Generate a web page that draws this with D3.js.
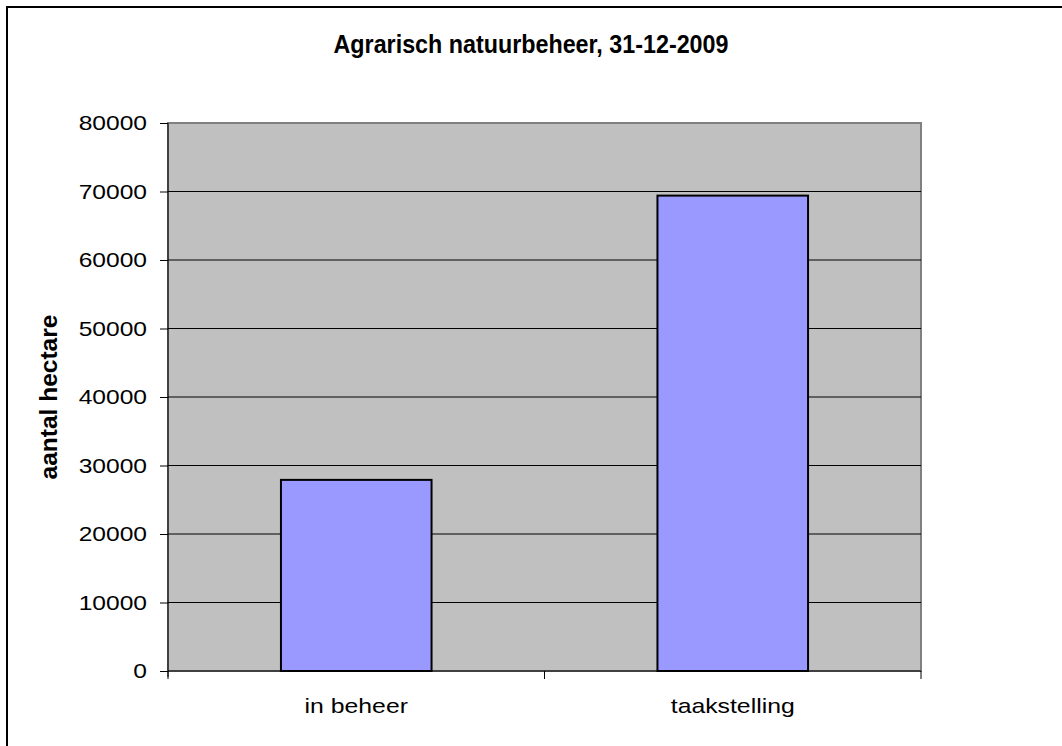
<!DOCTYPE html>
<html>
<head>
<meta charset="utf-8">
<script src="https://cdn.jsdelivr.net/npm/d3@7"></script>
<style>
body { margin: 0; background: #fff; }
text { font-family: "Liberation Sans", Arial, sans-serif; }
</style>
</head>
<body>
<div id="chart"></div>
<script>
// data
var categories = ["in beheer", "taakstelling"];
var values = [27900, 69400];
var yTicks = [0, 10000, 20000, 30000, 40000, 50000, 60000, 70000, 80000];

var W = 1062, H = 746;
var margin = { top: 123, right: 141, bottom: 75, left: 168 },
width = W - margin.left - margin.right,
height = H - margin.top - margin.bottom;

var data = categories.map(function (c, i) { return { cat: c, value: values[i] }; });

// the original picture is a bit wider than normal Arial, stretch text horizontally
function stretch(sel, k) {
  sel.each(function () {
    var len = this.getComputedTextLength();
    d3.select(this).attr("textLength", len * k).attr("lengthAdjust", "spacingAndGlyphs");
  });
}

var root = d3.select("#chart")
.append("svg")
.attr("width", W)
.attr("height", H);

// outer chart border (runs off right/bottom)
root.append("rect")
.attr("x", 7).attr("y", 7)
.attr("width", W + 20).attr("height", H + 20)
.attr("fill", "#fff")
.attr("stroke", "#000")
.attr("stroke-width", 2);

root.append("text")
.attr("x", 531).attr("y", 53)
.attr("text-anchor", "middle")
.style("font-size", "25px")
.style("font-weight", "bold")
.attr("textLength", 395)
.attr("lengthAdjust", "spacingAndGlyphs")
.text("Agrarisch natuurbeheer, 31-12-2009");

var svg = root.append("g")
.attr("transform", "translate(" + margin.left + "," + margin.top + ")");

var x = d3.scaleBand()
.domain(categories)
.range([0, width])
.paddingInner(0.6)
.paddingOuter(0.3);

var y = d3.scaleLinear()
.domain([0, 80000])
.range([height, 0]);

// plot background
svg.append("rect")
.attr("width", width).attr("height", height)
.attr("fill", "#c0c0c0")
.attr("stroke", "#808080")
.attr("stroke-width", 2);

// gridlines
svg.selectAll("line.grid").data(yTicks.slice(1, -1)).enter()
.append("line")
.attr("class", "grid")
.attr("x1", 0).attr("x2", width)
.attr("y1", function (d) { return y(d); })
.attr("y2", function (d) { return y(d); })
.attr("stroke", "#000")
.attr("stroke-width", 1);

// bars
svg.selectAll("rect.bar").data(data).enter()
.append("rect")
.attr("class", "bar")
.attr("x", function (d) { return x(d.cat); })
.attr("y", function (d) { return y(d.value); })
.attr("width", x.bandwidth())
.attr("height", function (d) { return height - y(d.value); })
.attr("fill", "#9999ff")
.attr("stroke", "#000")
.attr("stroke-width", 2);

// Y axis
var yAxis = svg.append("g")
.call(d3.axisLeft(y).tickValues(yTicks).tickSize(8).tickPadding(13).tickFormat(d3.format("d")));
yAxis.select(".domain").attr("stroke", "#000").attr("d", "M0,0V" + (height + 6));
yAxis.selectAll("text").style("font-size", "21px").attr("fill", "#000")
.style("font-family", "'Liberation Sans', Arial, sans-serif")
.call(stretch, 1.17);

// X axis: ticks on category boundaries
var xAxis = svg.append("g")
.attr("transform", "translate(0," + height + ")");
xAxis.append("line")
.attr("x1", 0).attr("x2", width)
.attr("stroke", "#000").attr("stroke-width", 1);
var bounds = [0, width / 2, width];
xAxis.selectAll("line.tk").data(bounds).enter()
.append("line")
.attr("class", "tk")
.attr("x1", function (d) { return d; }).attr("x2", function (d) { return d; })
.attr("y1", 0).attr("y2", 8)
.attr("stroke", "#000");
xAxis.selectAll("text").data(categories).enter()
.append("text")
.attr("x", function (d) { return x(d) + x.bandwidth() / 2; })
.attr("y", 42)
.attr("text-anchor", "middle")
.style("font-size", "21px")
.text(function (d) { return d; })
.call(stretch, 1.18);

// Y axis title
root.append("text")
.attr("transform", "translate(57," + 397 + ")rotate(-90)")
.attr("text-anchor", "middle")
.style("font-size", "24.5px")
.style("font-weight", "bold")
.text("aantal hectare");
</script>
</body>
</html>
